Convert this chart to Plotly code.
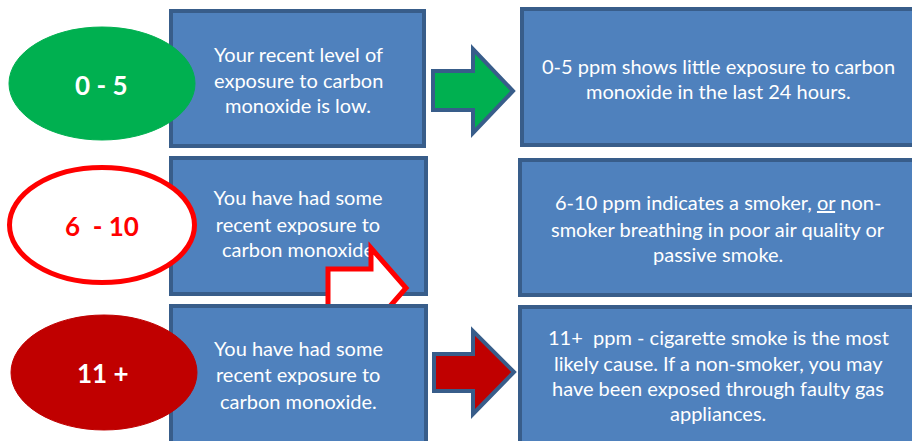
import plotly.graph_objects as go

# ---------------- data ----------------
ranges = ["0 - 5", "6  - 10", "11 +"]
meaning_lines = [
    ["Your recent level of", "exposure to carbon", "monoxide is low."],
    ["You have had some", "recent exposure to", "carbon monoxide"],
    ["You have had some", "recent exposure to", "carbon monoxide."],
]
detail_lines = [
    ["0-5 ppm shows little exposure to carbon", "monoxide in the last 24 hours."],
    ["6-10 ppm indicates a smoker, <u>or</u> non-", "smoker breathing in poor air quality or", "passive smoke."],
    ["11+  ppm - cigarette smoke is the most", "likely cause. If a non-smoker, you may",
     "have been exposed through faulty gas", "appliances."],
]

# ---------------- styles / geometry ----------------
W, H = 912, 441
BOX_FILL = "#4F81BD"
BOX_LINE = "#385D8A"
ELL_FILL = ["#00B050", "#FFFFFF", "#C00000"]
ELL_LINE = ["#00B050", "#FF0000", "#C00000"]
LABEL_COL = ["#FFFFFF", "#FF0000", "#FFFFFF"]
ARROW_FILL = ["#00B050", "#FFFFFF", "#C00000"]
ARROW_LINE = [BOX_LINE, "#FF0000", BOX_LINE]
FONT = "Lato, 'Open Sans', sans-serif"
BODY_SIZE = 20
LABEL_SIZE = 26

left_box = [(171, 11, 424, 146), (171, 158, 426, 294), (171, 306, 426, 445)]
right_box = [(522, 9, 918, 145), (520, 160, 918, 295), (520, 307, 918, 445)]
ellipses = [(9, 27, 195, 140), (9.5, 167.5, 194.5, 282.5), (11, 315, 197, 430)]
label_pos = [(101, 85), (102, 226), (103, 373)]
left_line_y = [[54, 80, 105], [200, 227, 252], [348, 374, 401]]
right_line_y = [[66, 91], [202, 229, 254], [337, 363, 388, 413]]
left_cx = 298
right_cx = 718
# arrows: (shaft_x0, shaft_y0, shaft_y1, head_x, head_y0, head_y1, tip_x, tip_y)
arrows = [
    (433, 71, 110, 473, 49, 133, 513, 91),
    (328, 269, 307, 371, 248, 328, 406, 288),
    (434, 354, 391, 473, 331, 414, 514, 372),
]
arrow_lw = [4, 5, 4]


def arrow_path(a):
    sx, sy0, sy1, hx, hy0, hy1, tx, ty = a
    return (f"M{sx},{sy0} L{hx},{sy0} L{hx},{hy0} L{tx},{ty} "
            f"L{hx},{hy1} L{hx},{sy1} L{sx},{sy1} Z")


def rect(b, layer="below"):
    return dict(type="rect", x0=b[0], y0=b[1], x1=b[2], y1=b[3], layer=layer,
                fillcolor=BOX_FILL, line=dict(color=BOX_LINE, width=4))


def ellipse(i, layer="below"):
    e = ellipses[i]
    return dict(type="circle", x0=e[0], y0=e[1], x1=e[2], y1=e[3], layer=layer,
                fillcolor=ELL_FILL[i], line=dict(color=ELL_LINE[i], width=5 if i == 1 else 1))


def arrow(i, layer="below"):
    return dict(type="path", path=arrow_path(arrows[i]), layer=layer,
                fillcolor=ARROW_FILL[i], line=dict(color=ARROW_LINE[i], width=arrow_lw[i]))


shapes = [
    rect(left_box[0]), ellipse(0), arrow(0), rect(right_box[0]),
    rect(left_box[1]), ellipse(1), rect(right_box[1]),
    rect(right_box[2]), arrow(2),
    # above layer: red outline arrow over row-2 text, then row-3 box and ellipse over it
    arrow(1, "above"), rect(left_box[2], "above"), ellipse(2, "above"),
]

fig = go.Figure()

# row-2 left text as a trace so that the outlined arrow can sit over it
fig.add_trace(go.Scatter(
    x=[left_cx] * len(meaning_lines[1]), y=left_line_y[1], text=meaning_lines[1],
    mode="text", textposition="middle center", hoverinfo="skip", showlegend=False,
    textfont=dict(family=FONT, size=BODY_SIZE, color="white"),
))

annotations = []
for i in range(3):
    annotations.append(dict(
        x=label_pos[i][0], y=label_pos[i][1], text=f"<b>{ranges[i]}</b>", showarrow=False,
        font=dict(family=FONT, size=LABEL_SIZE, color=LABEL_COL[i]),
        xanchor="center", yanchor="middle"))
    if i != 1:
        for t, y in zip(meaning_lines[i], left_line_y[i]):
            annotations.append(dict(x=left_cx, y=y, text=t, showarrow=False,
                                    font=dict(family=FONT, size=BODY_SIZE, color="white"),
                                    xanchor="center", yanchor="middle"))
    for t, y in zip(detail_lines[i], right_line_y[i]):
        annotations.append(dict(x=right_cx, y=y, text=t, showarrow=False,
                                font=dict(family=FONT, size=BODY_SIZE, color="white"),
                                xanchor="center", yanchor="middle"))

fig.update_layout(
    width=W, height=H, margin=dict(l=0, r=0, t=0, b=0),
    paper_bgcolor="white", plot_bgcolor="white",
    xaxis=dict(range=[0, W], visible=False, fixedrange=True),
    yaxis=dict(range=[H, 0], visible=False, fixedrange=True),
    shapes=shapes, annotations=annotations, showlegend=False,
)

fig.write_html("out.html", config={"displayModeBar": False},
               post_script="document.body.style.margin='0';")
